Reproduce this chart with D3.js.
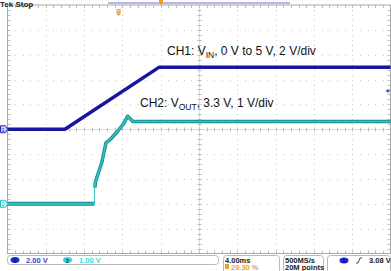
<!DOCTYPE html>
<html>
<head>
<meta charset="utf-8">
<script src="https://cdn.jsdelivr.net/npm/d3@7"></script>
<style>
  body { margin: 0; background: #fff; }
  svg { display: block; font-family: Arial, "Liberation Sans", sans-serif; }
</style>
</head>
<body>
<script>
// CH1 (V_IN) samples: time in ms from left edge, volts
const ch1Time = [0, 6.0, 15.85, 40];
const ch1Volt = [0, 0, 5.0, 5.0];
// CH2 (V_OUT) samples, before and after the step
const ch2TimeA = [0, 9.09, 9.1];
const ch2VoltA = [0, 0, 0.65];
const ch2TimeB = [9.12, 9.19, 9.84, 10.29, 10.7, 11.4, 12.06, 12.55, 12.79, 13.1, 40];
const ch2VoltB = [0.65, 0.89, 1.65, 2.46, 2.58, 2.87, 3.19, 3.52, 3.43, 3.31, 3.31];

// scope settings
const ch1Scale = 2;      // V/div
const ch2Scale = 1;      // V/div
const ch1Pos = 0;        // divs from centre
const ch2Pos = -3;
const msPerDiv = 4;
const trigLevel = 3.08;  // V on CH1
const trigTime = 11.6;   // ms

const labels = ["CH1: V", "IN", ", 0 V to 5 V, 2 V/div"];
const labels2 = ["CH2: V", "OUT", ", 3.3 V, 1 V/div"];

const W = 391, H = 271;
const svg = d3.select("body").append("svg").attr("width", W).attr("height", H);

// graticule: 10 x 10 divisions
const gx0 = 7.5, gx1 = 390.5, gy0 = 5, gy1 = 253.5;
const x = d3.scaleLinear().domain([0, msPerDiv * 10]).range([gx0, gx1]);
const yDiv = d3.scaleLinear().domain([5, -5]).range([gy0, gy1]);
const y1 = (v) => yDiv(v / ch1Scale + ch1Pos);
const y2 = (v) => yDiv(v / ch2Scale + ch2Pos);

const grid = svg.append("g");
const dotCol = "#c9c9c9";
// dotted lines at every major division, dots at minor positions
for (let i = 1; i < 10; i++) {
  const gxp = gx0 + i * (gx1 - gx0) / 10;
  const gyp = gy0 + i * (gy1 - gy0) / 10;
  for (let j = 1; j < 50; j++) {
    const px = gx0 + j * (gx1 - gx0) / 50;
    const py = gy0 + j * (gy1 - gy0) / 50;
    grid.append("rect").attr("x", Math.round(px)).attr("y", Math.round(gyp)).attr("width", 1).attr("height", 1).attr("fill", dotCol);
    grid.append("rect").attr("x", Math.round(gxp)).attr("y", Math.round(py)).attr("width", 1).attr("height", 1).attr("fill", dotCol);
  }
}
// centre lines with ticks
const cx = (gx0 + gx1) / 2, cy = (gy0 + gy1) / 2;
grid.append("line").attr("x1", gx0).attr("x2", gx1).attr("y1", Math.round(cy) + 0.5).attr("y2", Math.round(cy) + 0.5)
  .attr("stroke", "#dcdcdc");
grid.append("line").attr("y1", gy0).attr("y2", gy1).attr("x1", Math.round(cx) + 0.5).attr("x2", Math.round(cx) + 0.5)
  .attr("stroke", "#dcdcdc");
for (let j = 1; j < 50; j++) {
  const px = Math.round(gx0 + j * (gx1 - gx0) / 50) + 0.5;
  const py = Math.round(gy0 + j * (gy1 - gy0) / 50) + 0.5;
  grid.append("line").attr("x1", px).attr("x2", px).attr("y1", Math.round(cy) - 1.5).attr("y2", Math.round(cy) + 2.5).attr("stroke", "#bcbcbc");
  grid.append("line").attr("y1", py).attr("y2", py).attr("x1", Math.round(cx) - 1.5).attr("x2", Math.round(cx) + 2.5).attr("stroke", "#bcbcbc");
  // border ticks
  grid.append("line").attr("x1", px).attr("x2", px).attr("y1", gy0).attr("y2", gy0 + 3).attr("stroke", "#bcbcbc");
  grid.append("line").attr("x1", px).attr("x2", px).attr("y1", gy1 - 3).attr("y2", gy1).attr("stroke", "#bcbcbc");
  grid.append("line").attr("y1", py).attr("y2", py).attr("x1", gx0).attr("x2", gx0 + 3).attr("stroke", "#bcbcbc");
  grid.append("line").attr("y1", py).attr("y2", py).attr("x1", gx1 - 3).attr("x2", gx1).attr("stroke", "#bcbcbc");
}
grid.append("rect").attr("x", gx0).attr("y", gy0).attr("width", gx1 - gx0).attr("height", gy1 - gy0)
  .attr("fill", "none").attr("stroke", "#a8a8a8");

// traces
const line1 = d3.line().x((d) => x(d[0])).y((d) => y1(d[1]));
const line2 = d3.line().x((d) => x(d[0])).y((d) => y2(d[1]));
const d1 = ch1Time.map((t, i) => [t, ch1Volt[i]]);
const d2a = ch2TimeA.map((t, i) => [t, ch2VoltA[i]]);
const d2b = ch2TimeB.map((t, i) => [t, ch2VoltB[i]]);

// flat part before step (thick), step (thin)
svg.append("path").attr("d", line2(d2a.slice(0, 2))).attr("fill", "none")
  .attr("stroke", "#138c8c").attr("stroke-width", 4);
svg.append("path").attr("d", line2(d2a.slice(0, 2))).attr("fill", "none")
  .attr("stroke", "#33c4c2").attr("stroke-width", 2);
svg.append("path").attr("d", line2(d2a.slice(1))).attr("fill", "none")
  .attr("stroke", "#33c4c2").attr("stroke-width", 1);
svg.append("path").attr("d", line2(d2b)).attr("fill", "none")
  .attr("stroke", "#138c8c").attr("stroke-width", 3.5).attr("stroke-linejoin", "round");
svg.append("path").attr("d", line2(d2b)).attr("fill", "none")
  .attr("stroke", "#33c4c2").attr("stroke-width", 1.6).attr("stroke-linejoin", "round");
svg.append("path").attr("d", line1(d1)).attr("fill", "none")
  .attr("stroke", "#16169e").attr("stroke-width", 3.5).attr("stroke-linejoin", "round");

// annotations
function subLabel(parts, px, py) {
  const t = svg.append("text").attr("x", px).attr("y", py).attr("font-size", 12).attr("fill", "#111");
  t.append("tspan").text(parts[0]);
  t.append("tspan").attr("dy", 3).attr("font-size", 8.5).text(parts[1]);
  t.append("tspan").attr("dy", -3).text(parts[2]);
}
subLabel(labels, 167, 55);
subLabel(labels2, 140, 107);

// channel ground markers
function gndMarker(py, col, txt, fill) {
  const g = svg.append("g").attr("transform", `translate(0,${py})`);
  g.append("path").attr("d", "M0.5,-3.5 H5.5 L7.5,0 L5.5,3.5 H0.5 Z").attr("fill", fill).attr("stroke", col);
  g.append("text").attr("x", 3).attr("y", 2.5).attr("font-size", 6).attr("text-anchor", "middle").attr("fill", col).text(txt);
}
gndMarker(y1(0), "#2030c0", "1", "#c8ccff");
gndMarker(y2(0), "#2cc0c0", "2", "#d6f6f6");

// trigger level marker on right
svg.append("path").attr("d", `M${gx1 - 5},${y1(trigLevel)} l3,-2 v4 Z`).attr("fill", "#3050d0");
svg.append("line").attr("x1", gx1 - 3).attr("x2", gx1).attr("y1", y1(trigLevel)).attr("y2", y1(trigLevel)).attr("stroke", "#3050d0");

// top bar
svg.append("text").attr("x", 0).attr("y", 6.5).attr("font-size", 8).attr("font-weight", "bold").attr("fill", "#222").text("Tek Stop");
svg.append("rect").attr("x", 108).attr("y", 2).attr("width", 182).attr("height", 2).attr("fill", "#b4b4f0");
svg.append("path").attr("d", "M159,0 h4 v3 l-2,2 l-2,-2 Z").attr("fill", "#f0a020");
svg.append("path").attr("d", `M${x(trigTime) - 2},${gy0 + 4} h4 v5 l-2,2 l-2,-2 Z`).attr("fill", "#f0a030");
svg.append("text").attr("x", x(trigTime)).attr("y", gy0 + 8.5).attr("font-size", 4.5).attr("text-anchor", "middle").attr("fill", "#fff").text("T");

// status bar
const sb = svg.append("g").attr("font-size", 7.5).attr("font-weight", "bold");
function box(bx, by, bw, bh) {
  sb.append("rect").attr("x", bx).attr("y", by).attr("width", bw).attr("height", bh).attr("rx", 3)
    .attr("fill", "#fff").attr("stroke", "#b8b8b8");
}
box(7.5, 255.5, 211, 9);
box(223.5, 255.5, 56, 18);
box(283.5, 255.5, 40, 18);
box(327.5, 255.5, 63, 18);

sb.append("ellipse").attr("cx", 15).attr("cy", 260).attr("rx", 4.5).attr("ry", 3).attr("fill", "#1c28d8");
sb.append("text").attr("x", 15).attr("y", 262.5).attr("font-size", 6).attr("text-anchor", "middle").attr("fill", "#0c0c60").text("1");
sb.append("text").attr("x", 26).attr("y", 263).attr("fill", "#3846c8").text("2.00 V");
sb.append("ellipse").attr("cx", 67.5).attr("cy", 260).attr("rx", 4.5).attr("ry", 3).attr("fill", "#30d4d4");
sb.append("text").attr("x", 67.5).attr("y", 262.5).attr("font-size", 6).attr("text-anchor", "middle").attr("fill", "#0c4c4c").text("2");
sb.append("text").attr("x", 79).attr("y", 263).attr("fill", "#40d8d8").text("1.00 V");

sb.append("text").attr("x", 225).attr("y", 262.5).attr("fill", "#222").text("4.00ms");
sb.append("rect").attr("x", 225).attr("y", 264).attr("width", 4).attr("height", 5).attr("fill", "#f0a020");
sb.append("text").attr("x", 231).attr("y", 270).attr("fill", "#f0a020").text("29.30 %");
sb.append("text").attr("x", 285).attr("y", 262.5).attr("fill", "#222").text("500MS/s");
sb.append("text").attr("x", 285).attr("y", 270).attr("fill", "#222").text("20M points");

sb.append("ellipse").attr("cx", 344).attr("cy", 260.5).attr("rx", 4.5).attr("ry", 3).attr("fill", "#1c28d8");
sb.append("text").attr("x", 344).attr("y", 263).attr("font-size", 6).attr("text-anchor", "middle").attr("fill", "#0c0c60").text("1");
sb.append("path").attr("d", "M356,263 h2 l2,-5 h2").attr("fill", "none").attr("stroke", "#222").attr("stroke-width", 0.8);
sb.append("text").attr("x", 369).attr("y", 263).attr("fill", "#222").text("3.08 V");
</script>
</body>
</html>
